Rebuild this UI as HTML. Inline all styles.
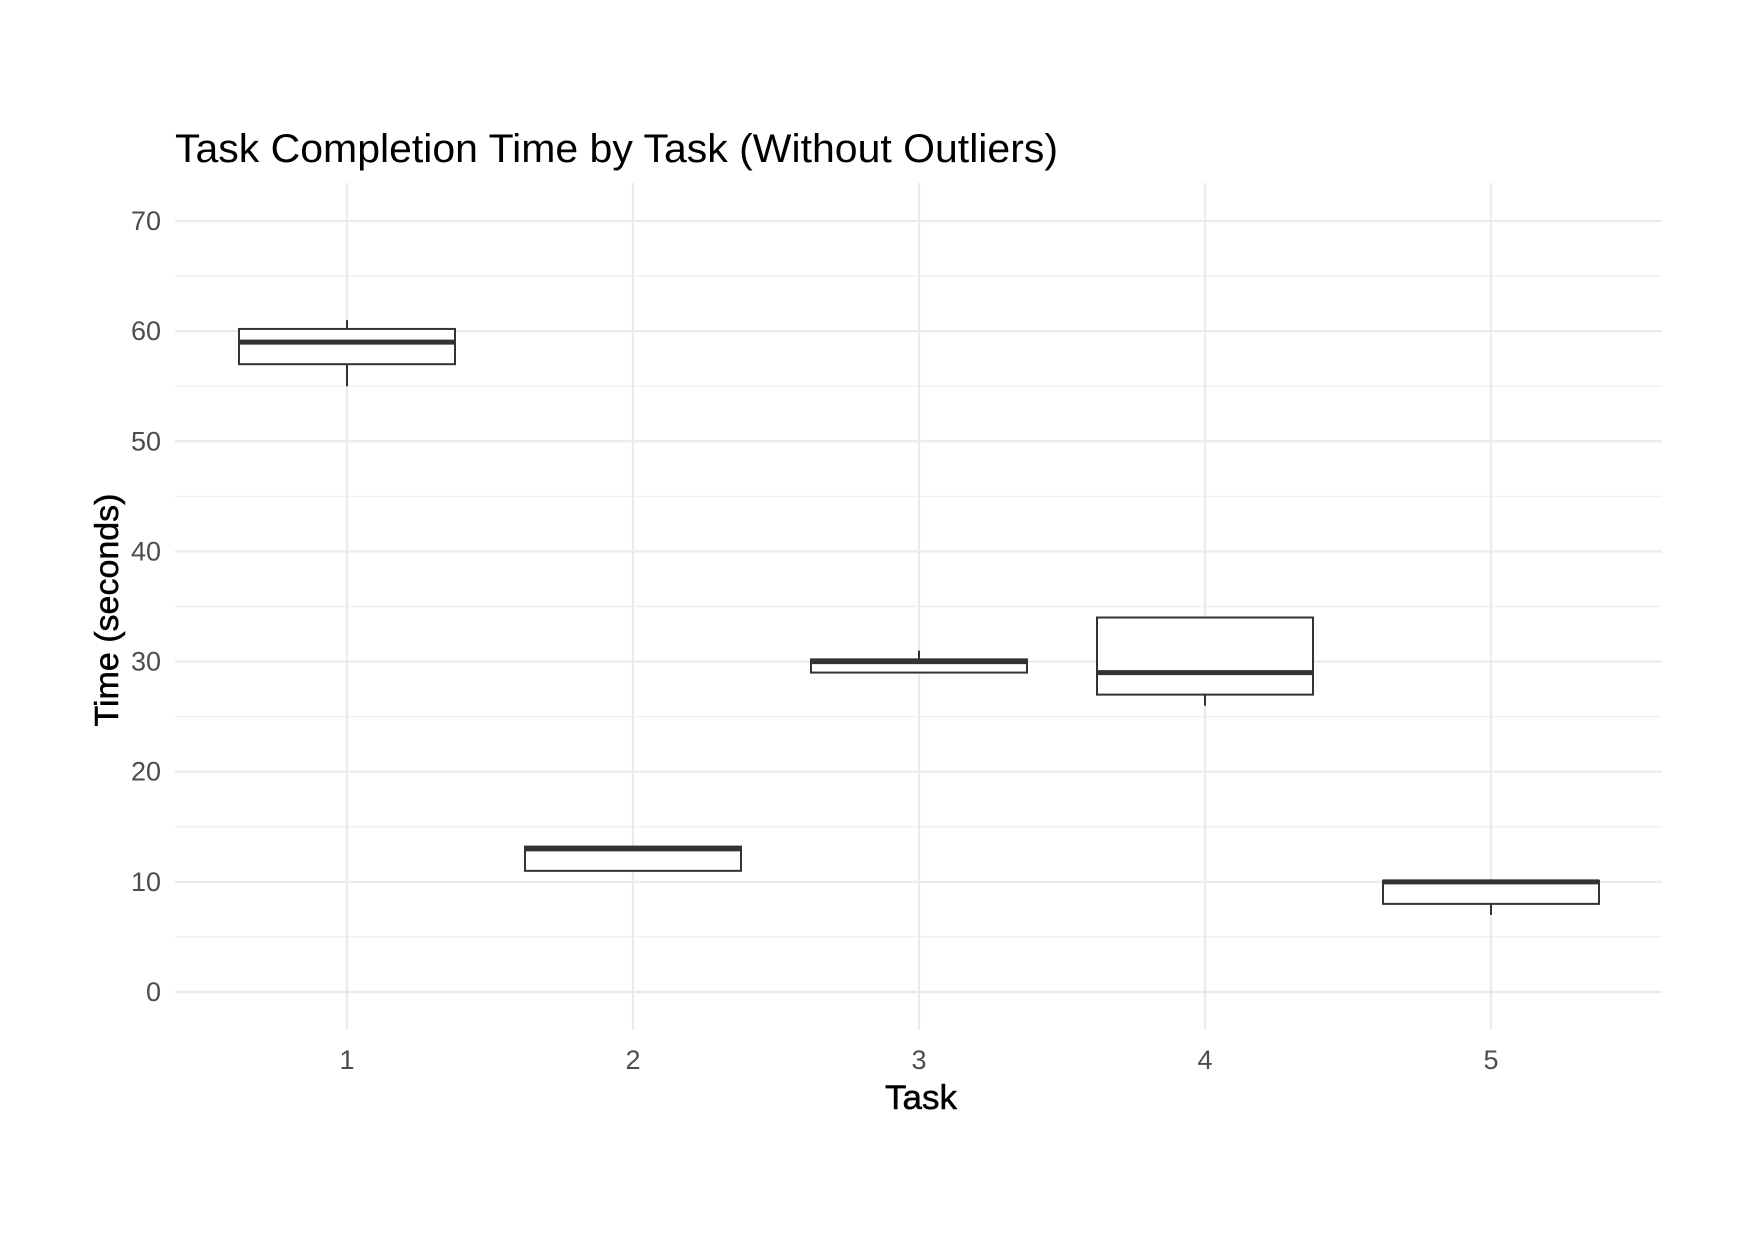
<!DOCTYPE html>
<html><head><meta charset="utf-8"><style>
html,body{margin:0;padding:0;background:#fff;}
svg{display:block;}
text{font-family:"Liberation Sans",Arial,sans-serif;}
</style></head><body>
<svg id="chart" width="1755" height="1241" viewBox="0 0 1755 1241" xmlns="http://www.w3.org/2000/svg">
<rect x="0" y="0" width="1755" height="1241" fill="#fff"/>
<text x="175" y="162" font-size="40" textLength="883" lengthAdjust="spacingAndGlyphs" fill="#000">Task Completion Time by Task (Without Outliers)</text>
<g id="grid"></g>
<g id="yticks"></g>
<g id="xticks"></g>
<g id="boxes"></g>
<text x="921" y="1109" font-size="34" font-weight="500" textLength="72" lengthAdjust="spacingAndGlyphs" fill="#000" text-anchor="middle" stroke="#000" stroke-width="0.5">Task</text>
<text transform="translate(118,610) rotate(-90)" font-size="33" textLength="233" lengthAdjust="spacingAndGlyphs" fill="#000" text-anchor="middle" stroke="#000" stroke-width="0.5">Time (seconds)</text>
</svg>
<script>
const categories = ["1","2","3","4","5"];
const whiskerLow = [55, 11, 29, 26, 7];
const q1 = [57, 11, 29, 27, 8];
const median = [59, 13, 30, 29, 10];
const q3 = [60.2, 13.2, 30.2, 34, 10.1];
const whiskerHigh = [61, 13.2, 31, 34, 10.1];
const yTicks = [0, 10, 20, 30, 40, 50, 60, 70];
const yMinor = [5, 15, 25, 35, 45, 55, 65];

const NS = "http://www.w3.org/2000/svg";
const panelL = 175, panelR = 1662, panelT = 183, panelB = 1030;
const x0 = 347, dx = 286;
function xScale(i){ return x0 + i*dx; }
function yScale(v){ return 992 - v*(771/70); }
function mk(tag, attrs, parent){
  const e = document.createElementNS(NS, tag);
  for (const k in attrs) e.setAttribute(k, attrs[k]);
  parent.appendChild(e);
  return e;
}
const grid = document.getElementById('grid');
yMinor.forEach(v=>{
  const l = mk('line',{x1:panelL,x2:panelR,y1:yScale(v),y2:yScale(v),stroke:'#f0f0f0','stroke-width':1.5},grid);
  
  
});
yTicks.forEach(v=>{
  const l = mk('line',{x1:panelL,x2:panelR,y1:yScale(v),y2:yScale(v),stroke:'#ebebeb','stroke-width':2.2},grid);
  
  
});
categories.forEach((c,i)=>{
  const l = mk('line',{x1:xScale(i),x2:xScale(i),y1:panelT,y2:panelB,stroke:'#ebebeb','stroke-width':2.2},grid);
  
  
});
const yt = document.getElementById('yticks');
yTicks.forEach(v=>{
  const t = mk('text',{x:161,y:yScale(v)+9,'font-size':27,fill:'#4d4d4d','text-anchor':'end'},yt);
  t.textContent = String(v);
  
  
});
const xt = document.getElementById('xticks');
categories.forEach((c,i)=>{
  const t = mk('text',{x:xScale(i),y:1069,'font-size':27,fill:'#4d4d4d','text-anchor':'middle'},xt);
  t.textContent = c;
  
  
});
const bx = document.getElementById('boxes');
const hw = 108;
categories.forEach((c,i)=>{
  const g = mk('g',{},bx);
  
  
  const cx = xScale(i);
  const w1 = mk('line',{x1:cx,x2:cx,y1:yScale(whiskerHigh[i]),y2:yScale(q3[i]),stroke:'#333','stroke-width':2},g);
  
  
  const w2 = mk('line',{x1:cx,x2:cx,y1:yScale(q1[i]),y2:yScale(whiskerLow[i]),stroke:'#333','stroke-width':2},g);
  
  
  const r = mk('rect',{x:cx-hw,y:yScale(q3[i]),width:2*hw,height:yScale(q1[i])-yScale(q3[i]),fill:'#fff',stroke:'#333','stroke-width':2},g);
  
  
  const m = mk('line',{x1:cx-hw,x2:cx+hw,y1:yScale(median[i]),y2:yScale(median[i]),stroke:'#333','stroke-width':5},g);
  
  
});
</script>
</body></html>
